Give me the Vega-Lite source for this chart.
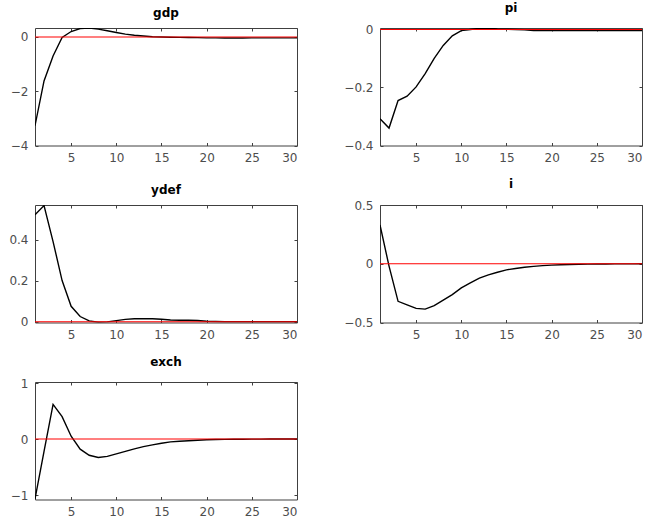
{
  "$schema": "https://vega.github.io/schema/vega-lite/v6.json",
  "background": "white",
  "padding": {"left": 8, "top": 2, "right": 5, "bottom": 5},
  "data": {"values": [
    {"var":"gdp","t":1,"v":-3.27},{"var":"gdp","t":2,"v":-1.62},{"var":"gdp","t":3,"v":-0.70},{"var":"gdp","t":4,"v":-0.02},{"var":"gdp","t":5,"v":0.2},{"var":"gdp","t":6,"v":0.31},{"var":"gdp","t":7,"v":0.33},{"var":"gdp","t":8,"v":0.29},{"var":"gdp","t":9,"v":0.23},{"var":"gdp","t":10,"v":0.165},{"var":"gdp","t":11,"v":0.105},{"var":"gdp","t":12,"v":0.065},{"var":"gdp","t":13,"v":0.035},{"var":"gdp","t":14,"v":0.01},{"var":"gdp","t":15,"v":0.0},{"var":"gdp","t":16,"v":-0.01},{"var":"gdp","t":17,"v":-0.015},{"var":"gdp","t":18,"v":-0.02},{"var":"gdp","t":19,"v":-0.025},{"var":"gdp","t":20,"v":-0.033},{"var":"gdp","t":21,"v":-0.035},{"var":"gdp","t":22,"v":-0.036},{"var":"gdp","t":23,"v":-0.036},{"var":"gdp","t":24,"v":-0.036},{"var":"gdp","t":25,"v":-0.035},{"var":"gdp","t":26,"v":-0.035},{"var":"gdp","t":27,"v":-0.034},{"var":"gdp","t":28,"v":-0.034},{"var":"gdp","t":29,"v":-0.033},{"var":"gdp","t":30,"v":-0.033},
    {"var":"pi","t":1,"v":-0.308},{"var":"pi","t":2,"v":-0.34},{"var":"pi","t":3,"v":-0.245},{"var":"pi","t":4,"v":-0.23},{"var":"pi","t":5,"v":-0.198},{"var":"pi","t":6,"v":-0.152},{"var":"pi","t":7,"v":-0.1},{"var":"pi","t":8,"v":-0.055},{"var":"pi","t":9,"v":-0.022},{"var":"pi","t":10,"v":-0.004},{"var":"pi","t":11,"v":0.0},{"var":"pi","t":12,"v":0.004},{"var":"pi","t":13,"v":0.004},{"var":"pi","t":14,"v":0.002},{"var":"pi","t":15,"v":0.001},{"var":"pi","t":16,"v":0.0},{"var":"pi","t":17,"v":-0.001},{"var":"pi","t":18,"v":-0.004},{"var":"pi","t":19,"v":-0.004},{"var":"pi","t":20,"v":-0.004},{"var":"pi","t":21,"v":-0.004},{"var":"pi","t":22,"v":-0.004},{"var":"pi","t":23,"v":-0.004},{"var":"pi","t":24,"v":-0.004},{"var":"pi","t":25,"v":-0.004},{"var":"pi","t":26,"v":-0.004},{"var":"pi","t":27,"v":-0.004},{"var":"pi","t":28,"v":-0.004},{"var":"pi","t":29,"v":-0.004},{"var":"pi","t":30,"v":-0.004},
    {"var":"ydef","t":1,"v":0.52},{"var":"ydef","t":2,"v":0.565},{"var":"ydef","t":3,"v":0.39},{"var":"ydef","t":4,"v":0.2},{"var":"ydef","t":5,"v":0.075},{"var":"ydef","t":6,"v":0.025},{"var":"ydef","t":7,"v":0.004},{"var":"ydef","t":8,"v":-0.003},{"var":"ydef","t":9,"v":-0.001},{"var":"ydef","t":10,"v":0.005},{"var":"ydef","t":11,"v":0.011},{"var":"ydef","t":12,"v":0.014},{"var":"ydef","t":13,"v":0.014},{"var":"ydef","t":14,"v":0.014},{"var":"ydef","t":15,"v":0.012},{"var":"ydef","t":16,"v":0.008},{"var":"ydef","t":17,"v":0.007},{"var":"ydef","t":18,"v":0.007},{"var":"ydef","t":19,"v":0.006},{"var":"ydef","t":20,"v":0.002},{"var":"ydef","t":21,"v":0.001},{"var":"ydef","t":22,"v":0.0},{"var":"ydef","t":23,"v":0.0},{"var":"ydef","t":24,"v":0.0},{"var":"ydef","t":25,"v":0.0},{"var":"ydef","t":26,"v":0.0},{"var":"ydef","t":27,"v":0.0},{"var":"ydef","t":28,"v":0.0},{"var":"ydef","t":29,"v":0.0},{"var":"ydef","t":30,"v":0.0},
    {"var":"i","t":1,"v":0.33},{"var":"i","t":2,"v":-0.02},{"var":"i","t":3,"v":-0.32},{"var":"i","t":4,"v":-0.35},{"var":"i","t":5,"v":-0.38},{"var":"i","t":6,"v":-0.386},{"var":"i","t":7,"v":-0.357},{"var":"i","t":8,"v":-0.31},{"var":"i","t":9,"v":-0.263},{"var":"i","t":10,"v":-0.206},{"var":"i","t":11,"v":-0.163},{"var":"i","t":12,"v":-0.123},{"var":"i","t":13,"v":-0.094},{"var":"i","t":14,"v":-0.072},{"var":"i","t":15,"v":-0.052},{"var":"i","t":16,"v":-0.04},{"var":"i","t":17,"v":-0.03},{"var":"i","t":18,"v":-0.022},{"var":"i","t":19,"v":-0.016},{"var":"i","t":20,"v":-0.012},{"var":"i","t":21,"v":-0.008},{"var":"i","t":22,"v":-0.006},{"var":"i","t":23,"v":-0.004},{"var":"i","t":24,"v":-0.003},{"var":"i","t":25,"v":-0.002},{"var":"i","t":26,"v":-0.002},{"var":"i","t":27,"v":-0.001},{"var":"i","t":28,"v":-0.001},{"var":"i","t":29,"v":-0.001},{"var":"i","t":30,"v":0.0},
    {"var":"exch","t":1,"v":-1.07},{"var":"exch","t":2,"v":-0.22},{"var":"exch","t":3,"v":0.62},{"var":"exch","t":4,"v":0.4},{"var":"exch","t":5,"v":0.05},{"var":"exch","t":6,"v":-0.18},{"var":"exch","t":7,"v":-0.29},{"var":"exch","t":8,"v":-0.33},{"var":"exch","t":9,"v":-0.31},{"var":"exch","t":10,"v":-0.265},{"var":"exch","t":11,"v":-0.22},{"var":"exch","t":12,"v":-0.175},{"var":"exch","t":13,"v":-0.134},{"var":"exch","t":14,"v":-0.104},{"var":"exch","t":15,"v":-0.075},{"var":"exch","t":16,"v":-0.05},{"var":"exch","t":17,"v":-0.04},{"var":"exch","t":18,"v":-0.03},{"var":"exch","t":19,"v":-0.02},{"var":"exch","t":20,"v":-0.012},{"var":"exch","t":21,"v":-0.008},{"var":"exch","t":22,"v":-0.005},{"var":"exch","t":23,"v":-0.003},{"var":"exch","t":24,"v":-0.002},{"var":"exch","t":25,"v":-0.001},{"var":"exch","t":26,"v":-0.001},{"var":"exch","t":27,"v":0.0},{"var":"exch","t":28,"v":0.0},{"var":"exch","t":29,"v":0.0},{"var":"exch","t":30,"v":0.0}
  ]},
  "columns": 2,
  "spacing": {"row": 59, "column": 83},
  "bounds": "flush",
  "concat": [
    {
      "title": "gdp", "width": 262, "height": 117.5,
      "transform": [{"filter": "datum.var === 'gdp'"}],
      "layer": [
        {"mark": {"type": "line", "color": "black", "strokeWidth": 1.4, "clip": true},
         "encoding": {
           "x": {"field": "t", "type": "quantitative", "title": null, "scale": {"domain": [1, 30], "nice": false, "zero": false}, "axis": {"orient": "bottom", "values": [5, 10, 15, 20, 25, 30]}},
           "y": {"field": "v", "type": "quantitative", "title": null, "scale": {"domain": [-4, 0.33], "nice": false, "zero": false}, "axis": {"orient": "left", "values": [-4, -2, 0]}}}},
        {"data": {"values": [{}]}, "mark": {"type": "rule", "color": "#ff0000", "strokeWidth": 1.1},
         "encoding": {"y": {"datum": 0, "axis": null}}},
        {"mark": {"type": "line", "opacity": 0},
         "encoding": {
           "x": {"field": "t", "type": "quantitative", "title": null, "axis": {"orient": "top", "labels": false, "values": [5, 10, 15, 20, 25, 30]}},
           "y": {"field": "v", "type": "quantitative", "title": null, "axis": {"orient": "right", "labels": false, "values": [-4, -2, 0]}}}}
      ],
      "resolve": {"axis": {"x": "independent", "y": "independent"}}
    },
    {
      "title": "pi", "width": 262, "height": 117.5,
      "transform": [{"filter": "datum.var === 'pi'"}],
      "layer": [
        {"mark": {"type": "line", "color": "black", "strokeWidth": 1.4, "clip": true},
         "encoding": {
           "x": {"field": "t", "type": "quantitative", "title": null, "scale": {"domain": [1, 30], "nice": false, "zero": false}, "axis": {"orient": "bottom", "values": [5, 10, 15, 20, 25, 30]}},
           "y": {"field": "v", "type": "quantitative", "title": null, "scale": {"domain": [-0.4, 0.005], "nice": false, "zero": false}, "axis": {"orient": "left", "values": [-0.4, -0.2, 0]}}}},
        {"data": {"values": [{}]}, "mark": {"type": "rule", "color": "#ff0000", "strokeWidth": 1.1},
         "encoding": {"y": {"datum": 0, "axis": null}}},
        {"mark": {"type": "line", "opacity": 0},
         "encoding": {
           "x": {"field": "t", "type": "quantitative", "title": null, "axis": {"orient": "top", "labels": false, "values": [5, 10, 15, 20, 25, 30]}},
           "y": {"field": "v", "type": "quantitative", "title": null, "axis": {"orient": "right", "labels": false, "values": [-0.4, -0.2, 0]}}}}
      ],
      "resolve": {"axis": {"x": "independent", "y": "independent"}}
    },
    {
      "title": "ydef", "width": 262, "height": 117.5,
      "transform": [{"filter": "datum.var === 'ydef'"}],
      "layer": [
        {"mark": {"type": "line", "color": "black", "strokeWidth": 1.4, "clip": true},
         "encoding": {
           "x": {"field": "t", "type": "quantitative", "title": null, "scale": {"domain": [1, 30], "nice": false, "zero": false}, "axis": {"orient": "bottom", "values": [5, 10, 15, 20, 25, 30]}},
           "y": {"field": "v", "type": "quantitative", "title": null, "scale": {"domain": [-0.004, 0.568], "nice": false, "zero": false}, "axis": {"orient": "left", "values": [0, 0.2, 0.4]}}}},
        {"data": {"values": [{}]}, "mark": {"type": "rule", "color": "#ff0000", "strokeWidth": 1.1},
         "encoding": {"y": {"datum": 0, "axis": null}}},
        {"mark": {"type": "line", "opacity": 0},
         "encoding": {
           "x": {"field": "t", "type": "quantitative", "title": null, "axis": {"orient": "top", "labels": false, "values": [5, 10, 15, 20, 25, 30]}},
           "y": {"field": "v", "type": "quantitative", "title": null, "axis": {"orient": "right", "labels": false, "values": [0, 0.2, 0.4]}}}}
      ],
      "resolve": {"axis": {"x": "independent", "y": "independent"}}
    },
    {
      "title": "i", "width": 262, "height": 117.5,
      "transform": [{"filter": "datum.var === 'i'"}],
      "layer": [
        {"mark": {"type": "line", "color": "black", "strokeWidth": 1.4, "clip": true},
         "encoding": {
           "x": {"field": "t", "type": "quantitative", "title": null, "scale": {"domain": [1, 30], "nice": false, "zero": false}, "axis": {"orient": "bottom", "values": [5, 10, 15, 20, 25, 30]}},
           "y": {"field": "v", "type": "quantitative", "title": null, "scale": {"domain": [-0.5, 0.5], "nice": false, "zero": false}, "axis": {"orient": "left", "values": [-0.5, 0, 0.5]}}}},
        {"data": {"values": [{}]}, "mark": {"type": "rule", "color": "#ff0000", "strokeWidth": 1.1},
         "encoding": {"y": {"datum": 0, "axis": null}}},
        {"mark": {"type": "line", "opacity": 0},
         "encoding": {
           "x": {"field": "t", "type": "quantitative", "title": null, "axis": {"orient": "top", "labels": false, "values": [5, 10, 15, 20, 25, 30]}},
           "y": {"field": "v", "type": "quantitative", "title": null, "axis": {"orient": "right", "labels": false, "values": [-0.5, 0, 0.5]}}}}
      ],
      "resolve": {"axis": {"x": "independent", "y": "independent"}}
    },
    {
      "title": "exch", "width": 262, "height": 117.5,
      "transform": [{"filter": "datum.var === 'exch'"}],
      "layer": [
        {"mark": {"type": "line", "color": "black", "strokeWidth": 1.4, "clip": true},
         "encoding": {
           "x": {"field": "t", "type": "quantitative", "title": null, "scale": {"domain": [1, 30], "nice": false, "zero": false}, "axis": {"orient": "bottom", "values": [5, 10, 15, 20, 25, 30]}},
           "y": {"field": "v", "type": "quantitative", "title": null, "scale": {"domain": [-1.08, 1.02], "nice": false, "zero": false}, "axis": {"orient": "left", "values": [-1, 0, 1]}}}},
        {"data": {"values": [{}]}, "mark": {"type": "rule", "color": "#ff0000", "strokeWidth": 1.1},
         "encoding": {"y": {"datum": 0, "axis": null}}},
        {"mark": {"type": "line", "opacity": 0},
         "encoding": {
           "x": {"field": "t", "type": "quantitative", "title": null, "axis": {"orient": "top", "labels": false, "values": [5, 10, 15, 20, 25, 30]}},
           "y": {"field": "v", "type": "quantitative", "title": null, "axis": {"orient": "right", "labels": false, "values": [-1, 0, 1]}}}}
      ],
      "resolve": {"axis": {"x": "independent", "y": "independent"}}
    }
  ],
  "config": {
    "view": {"stroke": null},
    "axis": {
      "grid": false,
      "format": "~g",
      "domainColor": "#404040",
      "domainWidth": 1,
      "tickColor": "#404040",
      "tickSize": -3,
      "tickWidth": 1,
      "labelPadding": 10,
      "labelColor": "#4d4d4d",
      "labelFont": "DejaVu Sans",
      "labelFontSize": 12
    },
    "title": {"font": "DejaVu Sans", "fontSize": 12, "fontWeight": "bold", "color": "#000000", "frame": "group", "offset": 8}
  }
}
